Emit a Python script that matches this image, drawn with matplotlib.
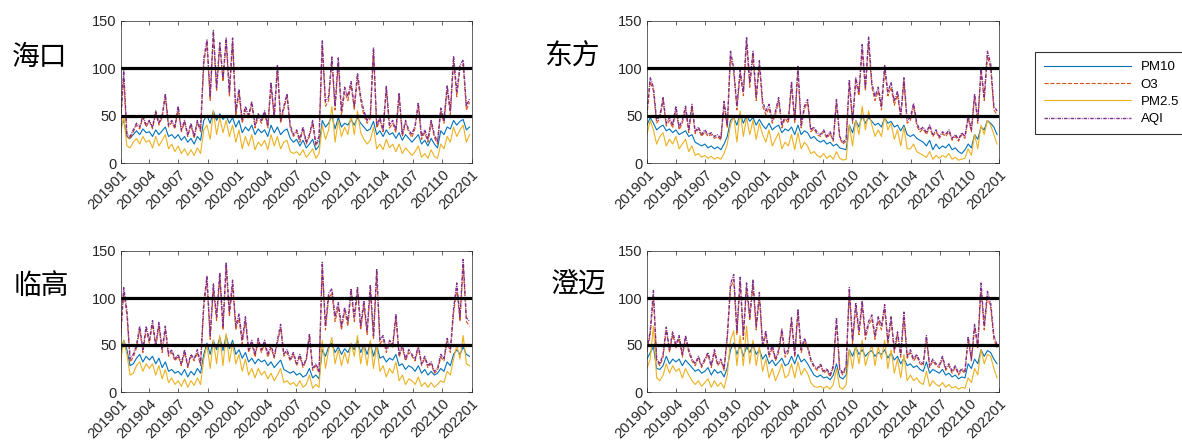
import matplotlib
matplotlib.use("Agg")
import matplotlib.pyplot as plt
import pandas as pd

# 城市名称
cities = ["海口", "东方", "临高", "澄迈"]

# 每10天一个值 (2019-01-01 起, 共110个)
haikou_aqi = [45, 98, 30, 28, 35, 42, 38, 50, 40,
              45, 38, 55, 42, 50, 73, 40, 45, 38,
              60, 35, 45, 30, 42, 28, 45, 35, 110,
              130, 70, 140, 80, 127, 90, 132, 75, 132,
              55, 78, 45, 60, 50, 65, 40, 52, 45,
              55, 40, 85, 50, 103, 45, 60, 73, 40,
              30, 35, 25, 38, 22, 30, 45, 20, 28,
              129, 65, 70, 112, 60, 111, 55, 80, 70, 86,
              60, 95, 70, 55, 45, 50, 122, 40, 48,
              35, 81, 40, 45, 35, 74, 30, 45, 35,
              30, 40, 64, 28, 35, 25, 45, 30, 22,
              58, 45, 82, 55, 113, 75, 103, 109, 60, 68]
haikou_o3 = [40, 90, 28, 25, 33, 40, 36, 48, 38,
             44, 36, 53, 40, 48, 70, 38, 43, 36,
             58, 33, 43, 28, 40, 26, 43, 33, 105,
             126, 66, 136, 76, 124, 86, 128, 70, 128,
             50, 74, 42, 56, 47, 62, 37, 49, 42,
             53, 37, 82, 47, 100, 42, 57, 70, 37,
             28, 33, 22, 36, 20, 28, 42, 18, 25,
             124, 60, 66, 108, 56, 106, 50, 75, 66, 82,
             56, 90, 66, 50, 42, 47, 118, 37, 45,
             33, 78, 37, 42, 32, 71, 28, 42, 33,
             27, 37, 61, 25, 32, 22, 42, 27, 20,
             55, 42, 78, 51, 108, 70, 99, 104, 56, 64]
haikou_pm10 = [38, 45, 28, 26, 30, 34, 30, 36, 32,
               33, 28, 35, 30, 34, 38, 28, 30, 26,
               30, 24, 28, 22, 26, 20, 28, 24, 45,
               50, 42, 55, 45, 52, 46, 50, 42, 48,
               38, 45, 32, 38, 34, 40, 30, 36, 32,
               35, 28, 40, 32, 38, 30, 34, 36, 26,
               22, 25, 18, 24, 16, 20, 25, 14, 18,
               45, 38, 42, 50, 36, 48, 38, 42, 40, 46,
               40, 48, 42, 38, 34, 36, 44, 30, 34,
               28, 35, 30, 32, 26, 32, 24, 30, 26,
               22, 26, 30, 20, 24, 18, 26, 20, 16,
               34, 30, 38, 36, 45, 40, 44, 46, 35, 38]
haikou_pm25 = [30, 50, 18, 16, 22, 26, 20, 28, 22,
               24, 16, 28, 18, 24, 30, 15, 20, 12,
               18, 10, 15, 8, 14, 8, 16, 10, 35,
               40, 25, 55, 30, 48, 32, 45, 28, 40,
               22, 35, 15, 28, 18, 30, 14, 22, 18,
               24, 14, 30, 18, 28, 15, 22, 24, 12,
               10, 12, 8, 14, 6, 10, 15, 5, 10,
               40, 25, 35, 60, 22, 45, 28, 38, 30, 50,
               30, 55, 32, 25, 20, 24, 38, 15, 20,
               14, 25, 16, 20, 12, 20, 10, 16, 12,
               8, 12, 18, 6, 10, 5, 14, 7, 5,
               20, 15, 28, 22, 38, 28, 35, 40, 22, 30]

dongfang_aqi = [55, 90, 80, 45, 50, 69, 42, 48, 40,
                60, 38, 45, 60, 35, 62, 33, 38, 30,
                35, 30, 32, 28, 30, 26, 65, 40, 118,
                100, 60, 98, 75, 133, 85, 118, 70, 108,
                65, 55, 62, 45, 55, 69, 40, 50, 45,
                86, 45, 102, 40, 60, 67, 35, 38, 32,
                30, 35, 28, 33, 25, 67, 28, 22, 25,
                88, 45, 90, 75, 125, 80, 133, 85, 70, 80,
                60, 103, 75, 85, 65, 76, 50, 90, 45,
                48, 63, 42, 35, 38, 32, 40, 30, 35,
                28, 33, 30, 35, 26, 30, 25, 32, 28,
                50, 35, 73, 45, 100, 70, 118, 105, 60, 55]
dongfang_o3 = [50, 86, 76, 42, 47, 66, 39, 45, 37,
               57, 35, 42, 57, 32, 59, 31, 36, 28,
               33, 28, 30, 26, 28, 24, 62, 37, 113,
               96, 56, 94, 71, 128, 80, 113, 66, 103,
               60, 51, 58, 42, 51, 66, 37, 47, 42,
               82, 42, 98, 37, 57, 64, 33, 36, 30,
               28, 33, 26, 31, 23, 64, 26, 20, 23,
               84, 42, 86, 71, 120, 76, 128, 80, 66, 76,
               56, 98, 71, 80, 61, 72, 47, 86, 42,
               45, 60, 39, 33, 36, 30, 38, 28, 33,
               26, 31, 28, 33, 24, 28, 23, 30, 26,
               47, 33, 70, 42, 96, 66, 113, 100, 56, 51]
dongfang_pm10 = [40, 48, 42, 35, 38, 40, 34, 36, 32,
                 35, 30, 32, 34, 28, 30, 22, 20, 18,
                 20, 16, 18, 15, 17, 14, 20, 28, 45,
                 48, 40, 52, 42, 50, 44, 48, 40, 46,
                 40, 36, 42, 35, 38, 40, 32, 36, 34,
                 38, 30, 40, 30, 34, 32, 26, 28, 24,
                 22, 24, 20, 22, 18, 20, 16, 15, 14,
                 40, 32, 45, 38, 50, 42, 48, 44, 40, 42,
                 38, 48, 42, 44, 38, 40, 34, 40, 30,
                 28, 30, 26, 24, 22, 18, 24, 14, 20,
                 15, 18, 16, 20, 14, 16, 12, 10, 14,
                 20, 16, 30, 25, 38, 35, 45, 42, 38, 30]
dongfang_pm25 = [30, 45, 35, 20, 28, 32, 18, 25, 20,
                 28, 15, 20, 25, 12, 18, 8, 10, 6,
                 8, 5, 7, 4, 6, 4, 10, 20, 40,
                 50, 22, 55, 28, 48, 30, 45, 25, 42,
                 30, 22, 35, 18, 25, 32, 15, 22, 18,
                 30, 14, 32, 15, 22, 18, 10, 12, 8,
                 6, 10, 5, 8, 4, 12, 5, 3, 4,
                 40, 18, 45, 30, 60, 35, 55, 40, 28, 35,
                 28, 50, 35, 42, 25, 35, 18, 38, 15,
                 15, 20, 12, 10, 8, 6, 12, 4, 8,
                 5, 8, 6, 10, 4, 6, 3, 4, 5,
                 15, 8, 30, 15, 40, 30, 45, 40, 30, 20]

lingao_aqi = [60, 111, 87, 35, 40, 50, 70, 45, 70,
              55, 76, 50, 74, 45, 70, 40, 45, 35,
              40, 30, 45, 28, 40, 35, 45, 30, 95,
              123, 60, 115, 80, 127, 70, 138, 85, 119,
              70, 83, 55, 80, 45, 55, 40, 57, 45,
              55, 40, 50, 38, 55, 72, 40, 45, 35,
              42, 30, 40, 28, 35, 62, 25, 30, 22,
              138, 70, 105, 110, 80, 95, 70, 90, 75, 110,
              80, 112, 70, 97, 65, 114, 60, 131, 55,
              60, 45, 55, 50, 83, 40, 50, 35, 45,
              40, 35, 50, 30, 38, 28, 32, 22, 25,
              40, 35, 57, 45, 88, 116, 80, 141, 79, 75]
lingao_o3 = [56, 106, 82, 32, 37, 47, 66, 42, 66,
             52, 72, 47, 70, 42, 66, 38, 42, 33,
             38, 28, 42, 26, 38, 33, 42, 28, 90,
             118, 56, 110, 76, 122, 66, 132, 80, 114,
             66, 78, 51, 76, 42, 52, 37, 54, 42,
             52, 37, 47, 36, 52, 68, 38, 42, 33,
             40, 28, 38, 26, 33, 58, 23, 28, 20,
             132, 66, 100, 105, 75, 90, 66, 86, 70, 105,
             75, 107, 66, 92, 61, 108, 56, 126, 51,
             56, 42, 52, 47, 79, 37, 47, 33, 42,
             38, 33, 47, 28, 36, 26, 30, 20, 23,
             37, 33, 54, 42, 84, 110, 75, 135, 75, 70]
lingao_pm10 = [42, 55, 45, 28, 30, 36, 40, 32, 38,
               34, 38, 30, 36, 26, 32, 22, 24, 20,
               22, 18, 24, 16, 22, 18, 25, 20, 40,
               52, 40, 55, 45, 58, 44, 60, 46, 55,
               40, 45, 36, 42, 32, 36, 30, 35, 32,
               34, 28, 32, 26, 30, 34, 24, 22, 20,
               22, 18, 20, 16, 18, 25, 15, 18, 14,
               45, 38, 48, 52, 42, 48, 40, 46, 42, 50,
               45, 55, 42, 50, 40, 52, 38, 50, 36,
               38, 32, 36, 34, 40, 28, 30, 24, 28,
               26, 22, 28, 20, 24, 18, 22, 18, 20,
               25, 22, 32, 28, 40, 45, 40, 48, 40, 38]
lingao_pm25 = [32, 55, 40, 18, 20, 28, 32, 22, 30,
               25, 30, 18, 28, 14, 24, 10, 15, 8,
               12, 6, 14, 5, 12, 7, 15, 8, 35,
               50, 25, 55, 30, 60, 28, 62, 32, 52,
               30, 40, 22, 35, 18, 25, 15, 25, 18,
               22, 14, 20, 12, 18, 25, 10, 12, 8,
               10, 6, 12, 5, 8, 18, 4, 8, 5,
               55, 25, 45, 58, 30, 45, 28, 42, 30, 52,
               38, 60, 30, 50, 28, 55, 25, 50, 22,
               28, 16, 25, 20, 32, 12, 18, 8, 14,
               12, 8, 16, 6, 10, 5, 10, 5, 8,
               12, 10, 22, 18, 35, 50, 35, 60, 30, 28]

chengmai_aqi = [45, 65, 108, 35, 30, 40, 69, 45, 64,
                50, 60, 40, 60, 45, 35, 30, 38, 28,
                35, 42, 28, 45, 30, 35, 25, 60, 115,
                125, 65, 122, 60, 116, 80, 119, 70, 106,
                50, 65, 40, 50, 35, 45, 67, 40, 45,
                79, 40, 88, 45, 57, 50, 35, 28, 25,
                30, 22, 25, 18, 28, 79, 25, 20, 28,
                111, 55, 95, 65, 97, 60, 75, 82, 60, 80,
                70, 93, 55, 80, 45, 64, 40, 85, 38,
                45, 35, 40, 32, 30, 60, 28, 35, 30,
                28, 38, 25, 30, 22, 28, 20, 25, 22,
                59, 35, 72, 50, 116, 70, 107, 95, 60, 50]
chengmai_o3 = [42, 61, 102, 33, 28, 37, 66, 42, 61,
               47, 57, 37, 57, 42, 33, 28, 36, 26,
               33, 40, 26, 42, 28, 33, 23, 57, 110,
               120, 61, 117, 56, 111, 76, 114, 66, 101,
               47, 61, 37, 47, 33, 42, 64, 37, 42,
               75, 37, 84, 42, 54, 47, 33, 26, 23,
               28, 20, 23, 16, 26, 75, 23, 18, 26,
               106, 51, 90, 61, 92, 56, 71, 78, 56, 76,
               66, 88, 51, 76, 42, 61, 37, 80, 36,
               42, 33, 38, 30, 28, 57, 26, 33, 28,
               26, 36, 23, 28, 20, 26, 18, 23, 20,
               56, 33, 68, 47, 110, 66, 102, 90, 56, 47]
chengmai_pm10 = [35, 42, 48, 25, 24, 28, 38, 30, 35,
                 32, 35, 28, 34, 30, 26, 22, 24, 20,
                 22, 26, 18, 24, 20, 22, 16, 26, 45,
                 52, 40, 50, 38, 48, 42, 50, 40, 45,
                 35, 40, 30, 34, 28, 32, 36, 28, 30,
                 38, 30, 40, 32, 35, 30, 24, 18, 16,
                 18, 15, 16, 13, 18, 30, 16, 14, 18,
                 45, 38, 48, 40, 45, 38, 42, 44, 38, 42,
                 40, 45, 36, 42, 34, 38, 30, 36, 28,
                 30, 26, 28, 24, 22, 32, 20, 24, 22,
                 20, 24, 18, 20, 16, 18, 14, 16, 15,
                 30, 25, 35, 30, 45, 38, 44, 42, 35, 30]
chengmai_pm25 = [25, 35, 70, 15, 12, 18, 30, 20, 28,
                 22, 25, 15, 25, 18, 12, 8, 12, 6,
                 10, 14, 5, 12, 6, 10, 4, 18, 55,
                 65, 28, 60, 28, 70, 30, 55, 28, 48,
                 22, 35, 15, 25, 12, 20, 30, 15, 18,
                 30, 15, 32, 18, 25, 20, 10, 6, 5,
                 6, 4, 6, 3, 8, 25, 5, 3, 8,
                 45, 25, 50, 30, 55, 28, 40, 50, 28, 48,
                 35, 55, 25, 45, 20, 35, 15, 40, 12,
                 18, 12, 15, 10, 8, 22, 6, 12, 8,
                 6, 10, 5, 8, 4, 6, 3, 5, 4,
                 15, 10, 25, 18, 45, 30, 40, 38, 25, 15]

data = {
    "海口": (haikou_pm10, haikou_o3, haikou_pm25, haikou_aqi),
    "东方": (dongfang_pm10, dongfang_o3, dongfang_pm25, dongfang_aqi),
    "临高": (lingao_pm10, lingao_o3, lingao_pm25, lingao_aqi),
    "澄迈": (chengmai_pm10, chengmai_o3, chengmai_pm25, chengmai_aqi),
}

dates = pd.date_range("2019-01-01", periods=110, freq="10D")
ticks = pd.date_range("2019-01-01", "2022-01-01", freq="QS")

plt.rcParams["font.family"] = ["Liberation Sans", "DejaVu Sans"]

W, H = 1182, 443
fig = plt.figure(figsize=(W / 100, H / 100), dpi=100)

# 子图位置 (像素: 左, 上, 右, 下)
boxes = [(120.5, 21, 471.5, 163), (647, 21, 999, 163),
         (120.5, 251, 471.5, 392), (647, 251, 999, 392)]
title_pos = [(40, 57), (572, 57), (41, 287), (578, 283)]

handles = None
for city, (l, t, r, b), (tx, ty) in zip(cities, boxes, title_pos):
    ax = fig.add_axes([l / W, 1 - b / H, (r - l) / W, (b - t) / H])
    pm10, o3, pm25, aqi = data[city]
    h1, = ax.plot(dates, pm10, color="#0072BD", lw=0.8, label="PM10")
    h2, = ax.plot(dates, o3, color="#D95319", lw=0.8, ls="--", label="O3")
    h3, = ax.plot(dates, pm25, color="#EDB120", lw=0.8, label="PM2.5")
    h4, = ax.plot(dates, aqi, color="#7E2F8E", lw=1.0, ls="-.",
                  dashes=(2.5, 0.8, 0.6, 0.8), label="AQI")
    handles = [h1, h2, h3, h4]
    ax.axhline(50, color="black", lw=2.3)
    ax.axhline(100, color="black", lw=2.3)

    ax.set_xlim(pd.Timestamp("2019-01-01"), pd.Timestamp("2022-01-01"))
    ax.set_ylim(0, 150)
    ax.set_yticks([0, 50, 100, 150])
    ax.set_xticks(ticks)
    ax.set_xticklabels([d.strftime("%Y%m") for d in ticks], rotation=45,
                       ha="right", rotation_mode="anchor")
    ax.tick_params(direction="in", top=True, right=True, length=3,
                   width=0.5, labelsize=10.5, colors="#262626", pad=3)
    for s in ax.spines.values():
        s.set_color("#262626")
        s.set_linewidth(0.5)

    fig.text(tx / W, 1 - ty / H, city, fontsize=20, ha="center", va="center",
             family=["Noto Sans CJK SC", "DejaVu Sans"])

leg = fig.legend(handles, ["PM10", "O3", "PM2.5", "AQI"], loc="upper left",
                 bbox_to_anchor=(1035 / W, 1 - 52 / H), fontsize=9.5,
                 handlelength=6.6, handletextpad=0.7, borderpad=0.7,
                 labelspacing=0.38, fancybox=False, borderaxespad=0)
leg.get_frame().set_edgecolor("black")
leg.get_frame().set_linewidth(0.8)

fig.savefig("out.png", dpi=100)
